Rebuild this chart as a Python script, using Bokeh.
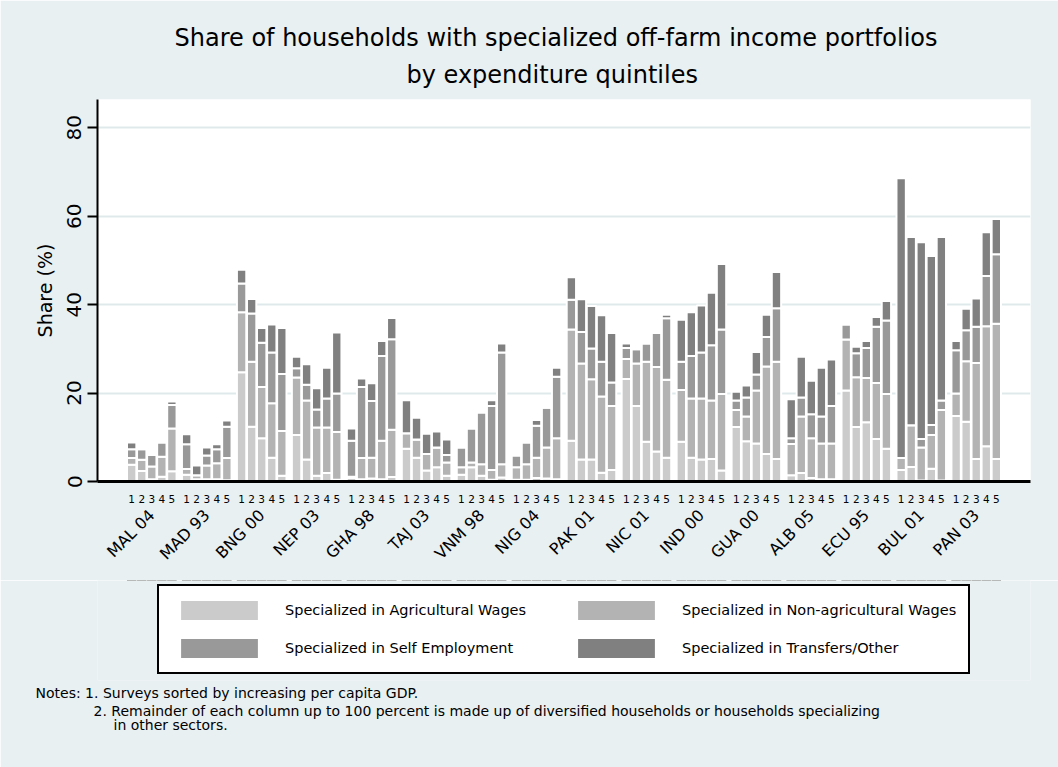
import math
from bokeh.plotting import figure
from bokeh.layouts import column
from bokeh.models import (FactorRange, ColumnDataSource, Legend, LegendItem,
                          Title, Range1d, FixedTicker)
from bokeh.embed import file_html
from bokeh.resources import INLINE

countries = ["MAL 04", "MAD 93", "BNG 00", "NEP 03", "GHA 98", "TAJ 03", "VNM 98", "NIG 04",
             "PAK 01", "NIC 01", "IND 00", "GUA 00", "ALB 05", "ECU 95", "BUL 01", "PAN 03"]
quintiles = ["1", "2", "3", "4", "5"]

# Specialized in Agricultural Wages (quintiles 1..5 per survey)
ag_wages = [
    [3.8, 2.4, 0.5, 1.1, 2.3],
    [1.5, 0.5, 0.5, 0.5, 0.3],
    [24.7, 12.4, 9.8, 5.4, 1.3],
    [10.5, 5.0, 1.3, 1.9, 0.4],
    [0.8, 0.5, 0.7, 0.5, 1.0],
    [7.4, 5.4, 2.5, 3.2, 1.3],
    [1.5, 3.2, 1.3, 0.4, 0.9],
    [0.4, 0.4, 0.8, 0.7, 0.5],
    [9.2, 5.0, 5.0, 2.0, 2.6],
    [23.2, 17.1, 9.0, 6.8, 5.4],
    [9.0, 5.4, 5.0, 5.1, 2.5],
    [12.3, 9.1, 8.6, 6.2, 5.1],
    [1.4, 1.9, 0.8, 0.5, 0.5],
    [20.6, 12.3, 13.4, 9.6, 7.4],
    [2.6, 3.3, 0.2, 2.9, 0.2],
    [14.8, 13.5, 5.1, 8.0, 5.1],
]
# Specialized in Non-agricultural Wages
nonag_wages = [
    [1.5, 2.5, 2.9, 4.5, 9.7],
    [1.3, 0.9, 3.1, 3.6, 5.0],
    [13.6, 14.7, 11.6, 12.3, 10.1],
    [13.0, 13.3, 10.9, 10.3, 10.8],
    [0.3, 4.8, 4.7, 8.7, 10.7],
    [3.5, 4.1, 3.7, 4.5, 3.0],
    [1.7, 1.1, 2.6, 2.2, 3.0],
    [2.8, 3.5, 4.6, 7.0, 9.3],
    [25.2, 21.7, 18.1, 17.2, 14.5],
    [4.5, 9.6, 18.1, 19.1, 17.6],
    [11.7, 13.4, 13.8, 13.2, 17.3],
    [3.9, 5.6, 12.0, 19.8, 22.0],
    [7.1, 12.8, 9.0, 8.1, 8.1],
    [11.5, 11.3, 10.0, 12.7, 12.4],
    [2.7, 9.4, 7.5, 7.6, 16.0],
    [5.1, 13.7, 21.7, 27.1, 30.6],
]
# Specialized in Self Employment
self_emp = [
    [2.0, 2.4, 2.6, 3.2, 5.3],
    [5.6, 0.0, 2.3, 3.2, 7.1],
    [6.5, 10.9, 10.0, 11.5, 12.9],
    [2.1, 3.6, 4.1, 6.6, 8.7],
    [8.1, 16.1, 12.8, 19.2, 20.5],
    [0.0, 0.0, 0.0, 0.0, 1.7],
    [4.5, 7.7, 11.7, 14.5, 25.3],
    [2.7, 4.9, 7.2, 9.0, 13.9],
    [6.7, 7.1, 7.0, 7.9, 5.3],
    [2.5, 3.2, 4.1, 7.7, 13.9],
    [6.4, 9.6, 10.4, 12.5, 14.6],
    [2.1, 4.3, 3.6, 6.7, 12.1],
    [1.3, 4.3, 5.4, 6.1, 8.5],
    [3.4, 5.4, 6.8, 12.7, 16.6],
    [0.0, 0.0, 1.9, 2.3, 2.1],
    [9.8, 7.0, 8.2, 11.4, 15.7],
]
# Specialized in Transfers/Other
transfers = [
    [1.5, 0.0, 0.0, 0.0, 0.8],
    [2.3, 2.2, 1.8, 1.1, 1.4],
    [3.1, 3.3, 3.3, 6.3, 10.4],
    [2.6, 4.6, 4.8, 6.9, 13.8],
    [2.8, 1.9, 4.0, 3.4, 4.8],
    [7.5, 4.9, 4.6, 3.6, 3.5],
    [0.0, 0.0, 0.0, 1.3, 2.0],
    [0.0, 0.0, 1.3, 0.0, 2.0],
    [5.1, 7.4, 9.6, 10.5, 11.2],
    [1.0, 0.0, 0.0, 0.0, 0.8],
    [9.5, 9.9, 10.6, 11.9, 14.8],
    [2.0, 2.7, 5.1, 5.0, 8.2],
    [8.8, 9.2, 7.6, 11.0, 10.5],
    [0.0, 1.5, 1.6, 2.2, 4.4],
    [63.3, 42.6, 44.5, 38.2, 37.0],
    [2.1, 4.9, 6.4, 9.9, 8.0],
]

series_names = ["Specialized in Agricultural Wages", "Specialized in Non-agricultural Wages",
                "Specialized in Self Employment", "Specialized in Transfers/Other"]
colors = ["#cbcbcb", "#b3b3b3", "#999999", "#808080"]
y_ticks = [0, 20, 40, 60, 80]
title_lines = ["Share of households with specialized off-farm income portfolios",
               "by expenditure quintiles"]
notes = ["Notes: 1. Surveys sorted by increasing per capita GDP.",
         "2. Remainder of each column up to 100 percent is made up of diversified households or households specializing",
         "in other sectors."]

FONT = "DejaVu Sans"
BG = "#e8f0f2"
stack_cols = ["ag", "nonag", "selfe", "trans"]

x = [(c, q) for c in countries for q in quintiles]
flat = lambda rows: [v for r in rows for v in r]
src = ColumnDataSource(data=dict(x=x, ag=flat(ag_wages), nonag=flat(nonag_wages),
                                 selfe=flat(self_emp), trans=flat(transfers)))
xr = FactorRange(*x, factor_padding=0, group_padding=0.468,
                 range_padding=2.9, range_padding_units="absolute")

# ---------------- main chart ----------------
p = figure(x_range=xr, y_range=Range1d(0, 86.4), frame_width=933, frame_height=382,
           output_backend="svg", toolbar_location=None,
           min_border_left=97, min_border_right=28, min_border_top=99, min_border_bottom=99,
           background_fill_color="white", border_fill_color=BG, outline_line_color=None,
           title=title_lines[0])

renderers = p.vbar_stack(stack_cols, x="x", width=0.93, source=src,
                         fill_color=colors, line_color="white", line_width=2)

# Titles (figure title is outermost, the added one sits next to the frame)
p.title.text_font = FONT
p.title.text_font_size = "24px"
p.title.text_font_style = "normal"
p.title.text_color = "black"
p.title.align = "left"
p.title.offset = 77
p.title.standoff = -7
p.add_layout(Title(text=title_lines[1], text_color="black",
                   text_font=FONT, text_font_size="24px", text_font_style="normal",
                   align="left", offset=309, standoff=21), "above")

# Y axis
p.yaxis.ticker = FixedTicker(ticks=y_ticks)
p.yaxis.major_label_orientation = "vertical"
p.yaxis.major_label_text_font = FONT
p.yaxis.major_label_text_font_size = "20px"
p.yaxis.major_label_text_color = "black"
p.yaxis.major_tick_out = 10
p.yaxis.major_tick_in = 0
p.yaxis.major_tick_line_width = 2
p.yaxis.minor_tick_line_color = None
p.yaxis.axis_line_width = 2
p.yaxis.major_label_standoff = 6
p.yaxis.axis_label = "Share (%)"
p.yaxis.axis_label_text_font = FONT
p.yaxis.axis_label_text_font_size = "19px"
p.yaxis.axis_label_text_font_style = "normal"
p.yaxis.axis_label_text_color = "black"
p.yaxis.axis_label_standoff = 9

p.ygrid.ticker = FixedTicker(ticks=y_ticks)
p.ygrid.grid_line_color = "#dfe9eb"
p.ygrid.grid_line_width = 2
p.xgrid.grid_line_color = None

# X axis
p.xaxis.axis_line_width = 3
p.xaxis.major_tick_line_color = None
p.xaxis.minor_tick_line_color = None
p.xaxis.major_label_text_font = FONT
p.xaxis.major_label_text_font_size = "10.5px"
p.xaxis.major_label_text_color = "black"
p.xaxis.major_label_standoff = 7
p.xaxis.group_text_font = FONT
p.xaxis.group_text_font_size = "16px"
p.xaxis.group_text_font_style = "normal"
p.xaxis.group_text_color = "black"
p.xaxis.group_label_orientation = math.pi / 4
p.xaxis.separator_line_color = None

# ---------------- legend + notes strip ----------------
p2 = figure(x_range=xr, y_range=Range1d(-10000, -9000), frame_width=933, frame_height=100,
            output_backend="svg", toolbar_location=None, title=None,
            min_border_left=97, min_border_right=28, min_border_top=0, min_border_bottom=87,
            x_axis_location=None, y_axis_location=None,
            background_fill_color=BG, border_fill_color=BG, outline_line_color=None)
p2.grid.grid_line_color = None

# same stacked series, far outside this strip's visible range: only their legend swatches show
keys = p2.vbar_stack(stack_cols, x="x", width=0.93, source=src,
                     fill_color=colors, line_color=None)
legend = Legend(items=[LegendItem(label=n, renderers=[r]) for n, r in zip(series_names, keys)],
                location=(60, 6), orientation="horizontal", ncols=2,
                glyph_width=96, glyph_height=24, label_height=24, label_width=269,
                label_standoff=18, spacing=14, padding=12, margin=0,
                border_line_color="black", border_line_width=2, border_line_alpha=1,
                background_fill_color="white", background_fill_alpha=1,
                label_text_font=FONT, label_text_font_size="14.5px", label_text_color="black")
p2.add_layout(legend)

for t, off, so in zip(notes, [-62, -4, 16], [5, -5, -3]):
    p2.add_layout(Title(text=t, align="left", offset=off, text_font=FONT, text_font_size="14px",
                        text_color="black", text_font_style="normal", standoff=so), "below")

layout = column(p, p2, spacing=0)
open("out.html", "w").write(file_html(layout, INLINE))
